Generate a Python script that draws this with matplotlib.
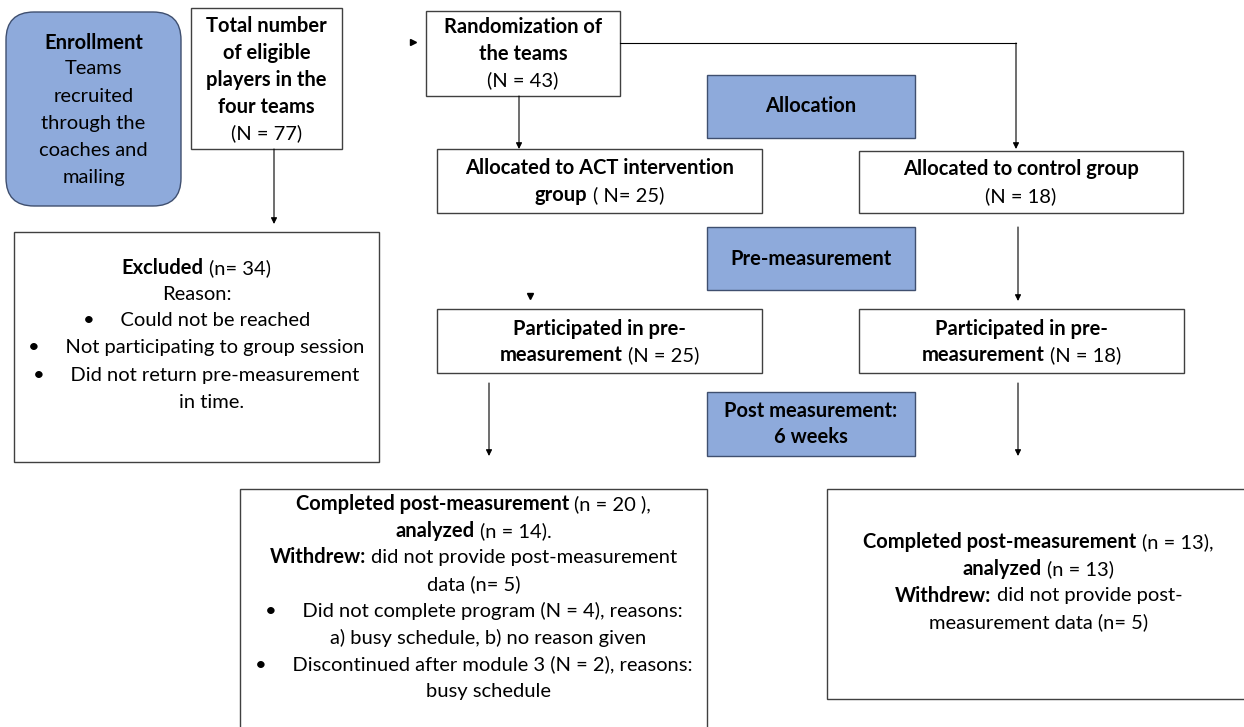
import matplotlib.pyplot as plt
from matplotlib.patches import Rectangle, FancyBboxPatch

plt.rcParams['font.family'] = ['Lato', 'DejaVu Sans']

B, N = True, False

# flowchart texts: each line is a list of (text, bold) pieces
enroll_txt = [[("Enrollment", B)], [("Teams", N)], [("recruited", N)],
              [("through the", N)], [("coaches and", N)], [("mailing", N)]]
total_txt = [[("Total number", B)], [("of eligible", B)], [("players in the", B)],
             [("four teams", B)], [("(N = 77)", N)]]
random_txt = [[("Randomization of", B)], [("the teams", B)], [("(N = 43)", N)]]
act_txt = [[("Allocated to ACT intervention", B)], [("group", B), ("( N= 25)", N)]]
ctrl_txt = [[("Allocated to control group", B)], [("(N = 18)", N)]]
pre_act_txt = [[("Participated in pre-", B)], [("measurement", B), ("(N = 25)", N)]]
pre_ctrl_txt = [[("Participated in pre-", B)], [("measurement", B), ("(N = 18)", N)]]
excl_txt = [[("Excluded", B), ("(n= 34)", N)], [("Reason:", N)],
            [("\u2022     Could not be reached", N)],
            [("\u2022     Not participating to group session", N)],
            [("\u2022     Did not return pre-measurement", N)],
            [("in time.", N)]]
post_act_txt = [[("Completed post-measurement", B), ("(n = 20 ),", N)],
                [("analyzed", B), ("(n = 14).", N)],
                [("Withdrew:", B), ("did not provide post-measurement", N)],
                [("data (n= 5)", N)],
                [("\u2022     Did not complete program (N = 4), reasons:", N)],
                [("a) busy schedule, b) no reason given", N)],
                [("\u2022     Discontinued after module 3 (N = 2), reasons:", N)],
                [("busy schedule", N)]]
post_ctrl_txt = [[("Completed post-measurement", B), ("(n = 13),", N)],
                 [("analyzed", B), ("(n = 13)", N)],
                 [("Withdrew:", B), ("did not provide post-", N)],
                 [("measurement data (n= 5)", N)]]
stage_labels = ["Allocation", "Pre-measurement", "Post measurement:\n6 weeks"]

FS = 14.5
BLUE = '#8eaadb'
EDGE_BLUE = '#3f4f6f'

fig = plt.figure(figsize=(12.44, 7.27), dpi=100)
ax = fig.add_axes([0, 0, 1, 1])
ax.set_xlim(0, 1244)
ax.set_ylim(727, 0)
ax.axis('off')
renderer = fig.canvas.get_renderer()


def write_line(cx, y, parts, gap=5.5):
    items = []
    total = 0
    for txt, bold in parts:
        t = ax.text(0, y, txt, fontsize=FS, fontweight='bold' if bold else 'normal',
                    ha='left', va='center', color='black')
        w = t.get_window_extent(renderer).width
        items.append((t, w))
        total += w
    total += gap * (len(items) - 1)
    x = cx - total / 2
    for t, w in items:
        t.set_x(x)
        x += w + gap


def box(x0, y0, x1, y1, lines, ys, fc='white', ec='#404040', offsets=None):
    ax.add_patch(Rectangle((x0, y0), x1 - x0, y1 - y0, fc=fc, ec=ec, lw=1))
    cx = (x0 + x1) / 2
    for i, (ln, y) in enumerate(zip(lines, ys)):
        dx = offsets[i] if offsets else 0
        write_line(cx + dx, y, ln)


def arrow(x0, y0, x1, y1):
    ax.annotate('', xy=(x1, y1), xytext=(x0, y0),
                arrowprops=dict(arrowstyle='-|>', color='black', lw=0.8,
                                mutation_scale=9, shrinkA=0, shrinkB=0))


# enrollment (rounded)
ax.add_patch(FancyBboxPatch((6, 12), 175, 194, boxstyle='round,pad=0,rounding_size=28',
                            fc=BLUE, ec=EDGE_BLUE, lw=1))
for ln, y in zip(enroll_txt, [43, 69, 97, 123, 150, 177]):
    write_line(93.5, y, ln)

box(191, 8, 342, 149, total_txt, [26, 53, 80, 107, 133])
box(426, 11, 620, 96, random_txt, [27, 54, 80])
box(707, 75, 915, 138, [[(stage_labels[0], B)]], [106], fc=BLUE, ec=EDGE_BLUE)
box(437, 149, 762, 213, act_txt, [168, 195])
box(859, 151, 1183, 213, ctrl_txt, [169, 196])
box(707, 227, 915, 290, [[(stage_labels[1], B)]], [259], fc=BLUE, ec=EDGE_BLUE)
box(437, 309, 762, 373, pre_act_txt, [329, 355])
box(859, 309, 1184, 373, pre_ctrl_txt, [329, 355])
box(707, 392, 915, 456, [[(s, B)] for s in stage_labels[2].split('\n')], [411, 437],
    fc=BLUE, ec=EDGE_BLUE)
box(14, 232, 379, 462, excl_txt, [268, 295, 321, 348, 375, 402],
    offsets=[0, 0, 0, 0, 0, 15])
box(240, 489, 707, 740, post_act_txt, [504, 531, 557, 584, 611, 638, 664, 691],
    offsets=[0, 0, 0, 0, 0, 15, 0, 15])
box(827, 489, 1250, 699, post_ctrl_txt, [542, 569, 596, 622])

# connectors
arrow(274, 149, 274, 224)
ax.plot([620, 1016], [43, 43], color='black', lw=0.8)
arrow(1016, 43, 1016, 149)
arrow(519, 96, 519, 149)
arrow(1018, 227, 1018, 301)
arrow(489, 383, 489, 456)
arrow(1018, 383, 1018, 456)
ax.plot(413, 42, marker='>', ms=4, color='black')
ax.plot(530, 296, marker='v', ms=4, color='black')

fig.savefig('out.png', dpi=100, facecolor='white')
